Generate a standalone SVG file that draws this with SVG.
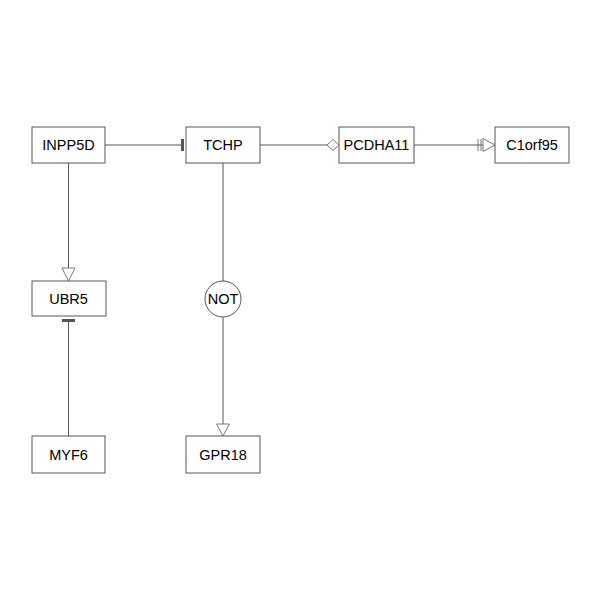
<svg xmlns="http://www.w3.org/2000/svg" width="600" height="600" viewBox="0 0 600 600">
<style>
.box{fill:#fff;stroke:#555;stroke-width:1}
.lbl{font-family:"Liberation Sans",Arial,sans-serif;font-size:14.5px;fill:#000;text-anchor:middle;dominant-baseline:central}
.edge{stroke:#555;stroke-width:1;fill:none}
.open{fill:#fff;stroke:#777;stroke-width:1}
.bar{fill:#555}
</style>
<rect width="600" height="600" fill="#fff"/>
<g id="connectors">
<line class="edge" x1="105" y1="145" x2="182" y2="145"/>
<rect class="bar" x="181" y="139" width="3" height="12"/>
<line class="edge" x1="260" y1="145" x2="327" y2="145"/>
<polygon class="open" points="327,145 333,139.5 339,145 333,150.5"/>
<line class="edge" x1="414" y1="145" x2="483" y2="145"/>
<line class="open" x1="478" y1="139" x2="478" y2="151"/>
<line class="open" x1="481" y1="139" x2="481" y2="151"/>
<polygon class="open" points="483,138.5 495,145 483,151.5"/>
<line class="edge" x1="68.5" y1="163" x2="68.5" y2="268"/>
<polygon class="open" points="62,268 75,268 68.5,281"/>
<line class="edge" x1="68.5" y1="436" x2="68.5" y2="321"/>
<rect class="bar" x="62" y="319" width="13" height="3"/>
<line class="edge" x1="223" y1="163" x2="223" y2="281"/>
<line class="edge" x1="223" y1="317" x2="223" y2="424"/>
<polygon class="open" points="216.5,424 229.5,424 223,436"/>
</g>
<g id="INPP5D"><rect class="box" x="32" y="127" width="73" height="36"/><text class="lbl" x="68.5" y="145">INPP5D</text></g>
<g id="TCHP"><rect class="box" x="186" y="127" width="74" height="36"/><text class="lbl" x="223" y="145">TCHP</text></g>
<g id="PCDHA11"><rect class="box" x="339" y="127" width="75" height="36"/><text class="lbl" x="376.5" y="145">PCDHA11</text></g>
<g id="C1orf95"><rect class="box" x="495" y="127" width="74" height="36"/><text class="lbl" x="532" y="145">C1orf95</text></g>
<g id="UBR5"><rect class="box" x="32" y="281" width="74" height="35"/><text class="lbl" x="68.5" y="298.5">UBR5</text></g>
<g id="NOT"><circle class="box" cx="223" cy="299" r="18"/><text class="lbl" x="223" y="299">NOT</text></g>
<g id="MYF6"><rect class="box" x="32" y="436" width="73" height="37"/><text class="lbl" x="68.5" y="454.5">MYF6</text></g>
<g id="GPR18"><rect class="box" x="186" y="436" width="74" height="37"/><text class="lbl" x="223" y="454.5">GPR18</text></g>
</svg>
